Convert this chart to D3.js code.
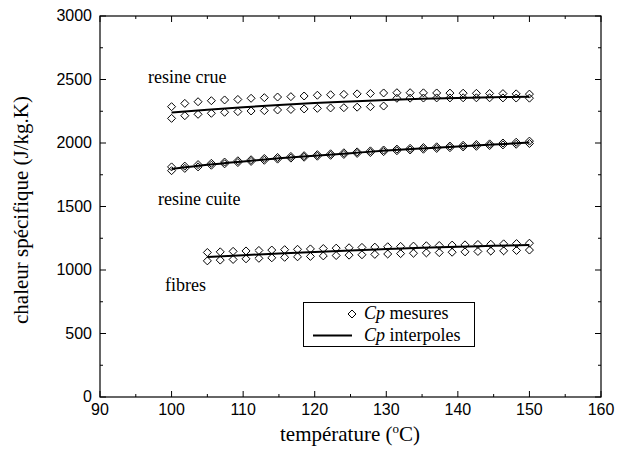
<!DOCTYPE html>
<html>
<head>
<meta charset="utf-8">
<script src="https://cdn.jsdelivr.net/npm/d3@7"></script>
<style>
  body { margin: 0; background: #fff; }
  text { fill: #000; }
  .tick-label { font-family: "Liberation Sans", Arial, sans-serif; font-size: 16px; }
  .serif { font-family: "Liberation Serif", "Times New Roman", serif; }
</style>
</head>
<body>
<svg id="chart" width="627" height="450"></svg>
<script>
// temperatures of the measured points (°C)
var tempResine = [100, 101.85, 103.7, 105.56, 107.41, 109.26, 111.11, 112.96, 114.81, 116.67,
                  118.52, 120.37, 122.22, 124.07, 125.93, 127.78, 129.63, 131.48, 133.33, 135.19,
                  137.04, 138.89, 140.74, 142.59, 144.44, 146.3, 148.15, 150];
var tempFibres = [105, 106.8, 108.6, 110.4, 112.2, 114, 115.8, 117.6, 119.4, 121.2, 123, 124.8, 126.6,
                  128.4, 130.2, 132, 133.8, 135.6, 137.4, 139.2, 141, 142.8, 144.6, 146.4, 148.2, 150];

// Cp mesures (J/kg.K)
var crueHaut = [2286, 2312, 2325, 2333, 2339, 2343, 2352, 2357, 2362, 2365, 2370, 2376, 2380, 2383,
                2387, 2390, 2394, 2396, 2396, 2395, 2394, 2393, 2392, 2391, 2390, 2389, 2387, 2385];
var crueBas = [2194, 2215, 2226, 2234, 2242, 2247, 2252, 2255, 2260, 2264, 2268, 2273, 2276, 2278,
               2282, 2286, 2291, 2352, 2353, 2354, 2355, 2355, 2356, 2356, 2356, 2355, 2354, 2353];
var cuiteA = [1812, 1818, 1830, 1840, 1850, 1860, 1868, 1878, 1886, 1894, 1900, 1908, 1915, 1923,
              1930, 1938, 1945, 1952, 1958, 1964, 1970, 1976, 1982, 1988, 1993, 2000, 2006, 2015];
var cuiteB = [1782, 1800, 1812, 1825, 1836, 1846, 1855, 1864, 1873, 1881, 1888, 1896, 1903, 1910,
              1918, 1925, 1932, 1939, 1945, 1951, 1957, 1963, 1969, 1974, 1980, 1985, 1990, 1996];
var fibresHaut = [1138, 1143, 1147, 1150, 1154, 1157, 1160, 1163, 1166, 1169, 1172, 1175, 1178,
                  1180, 1183, 1186, 1188, 1191, 1193, 1196, 1198, 1201, 1203, 1206, 1208, 1211];
var fibresBas = [1072, 1078, 1083, 1088, 1092, 1096, 1100, 1104, 1107, 1111, 1114, 1117, 1120,
                 1123, 1126, 1129, 1132, 1135, 1137, 1140, 1143, 1146, 1149, 1151, 1154, 1157];

// Cp interpoles
var tempLissage = [100, 105, 110, 115, 120, 125, 130, 135, 140, 145, 150];
var crueLisse = [2239, 2262, 2282, 2299, 2314, 2327, 2339, 2348, 2355, 2361, 2365];
var cuiteLisse = [1795, 1828, 1855, 1880, 1900, 1920, 1940, 1957, 1973, 1988, 2003];
var tempLissageFibres = [105, 110, 115, 120, 125, 130, 135, 140, 145, 150];
var fibresLisse = [1102, 1117, 1130, 1142, 1154, 1165, 1175, 1183, 1190, 1197];

var xTicks = [90, 100, 110, 120, 130, 140, 150, 160];
var yTicks = [0, 500, 1000, 1500, 2000, 2500, 3000];

(function(d3) {
	'use strict';

	var left = 100, right = 601, top = 16, bottom = 397;
	var svg = d3.select('#chart');

	var x = d3.scaleLinear().domain([90, 160]).range([left, right]);
	var y = d3.scaleLinear().domain([0, 3000]).range([bottom, top]);

	var minorX = d3.range(90, 161, 5);
	var minorY = d3.range(0, 3001, 250);

	// frame
	svg.append('rect')
		.attr('x', left).attr('y', top)
		.attr('width', right - left).attr('height', bottom - top)
		.attr('fill', 'none').attr('stroke', '#000').attr('stroke-width', 1.2);

	// ticks pointing inside, on all four sides
	var tickG = svg.append('g').attr('stroke', '#000').attr('stroke-width', 1);
	minorX.forEach(function(v) {
		var len = (v % 10 === 0) ? 6 : 3;
		tickG.append('line').attr('x1', x(v)).attr('x2', x(v)).attr('y1', bottom).attr('y2', bottom - len);
		tickG.append('line').attr('x1', x(v)).attr('x2', x(v)).attr('y1', top).attr('y2', top + len);
	});
	minorY.forEach(function(v) {
		var len = (v % 500 === 0) ? 6 : 3;
		tickG.append('line').attr('x1', left).attr('x2', left + len).attr('y1', y(v)).attr('y2', y(v));
		tickG.append('line').attr('x1', right).attr('x2', right - len).attr('y1', y(v)).attr('y2', y(v));
	});

	svg.selectAll('.xlab').data(xTicks).enter().append('text')
		.attr('class', 'tick-label')
		.attr('x', function(d) { return x(d); })
		.attr('y', bottom + 18)
		.attr('text-anchor', 'middle')
		.text(function(d) { return d; });

	svg.selectAll('.ylab').data(yTicks).enter().append('text')
		.attr('class', 'tick-label')
		.attr('x', left - 8)
		.attr('y', function(d) { return y(d) + 5; })
		.attr('text-anchor', 'end')
		.text(function(d) { return d; });

	// axis titles
	var xt = svg.append('text')
		.attr('class', 'serif')
		.attr('x', 350).attr('y', 441)
		.attr('text-anchor', 'middle')
		.style('font-size', '21px');
	xt.append('tspan').text('température (');
	xt.append('tspan').attr('dy', -8).style('font-size', '13px').text('o');
	xt.append('tspan').attr('dy', 8).text('C)');

	svg.append('text')
		.attr('class', 'serif')
		.attr('transform', 'translate(28,' + 210 + ') rotate(-90)')
		.attr('text-anchor', 'middle')
		.style('font-size', '21px')
		.text('chaleur spécifique (J/kg.K)');

	// measured points
	var r = 4;
	function diamond(px, py) {
		return 'M' + px + ',' + (py - r) + 'L' + (px + r) + ',' + py + 'L' + px + ',' + (py + r) + 'L' + (px - r) + ',' + py + 'Z';
	}
	var series = [
		[tempResine, crueHaut], [tempResine, crueBas],
		[tempResine, cuiteA], [tempResine, cuiteB],
		[tempFibres, fibresHaut], [tempFibres, fibresBas]
	];
	series.forEach(function(s) {
		svg.append('g').selectAll('path')
			.data(s[1])
			.enter()
			.append('path')
			.attr('d', function(d, i) { return diamond(x(s[0][i]), y(d)); })
			.attr('fill', 'none')
			.attr('stroke', '#000')
			.attr('stroke-width', 1);
	});

	// interpolated curves
	var line = d3.line()
		.x(function(d) { return x(d[0]); })
		.y(function(d) { return y(d[1]); })
		.curve(d3.curveMonotoneX);
	[[tempLissage, crueLisse], [tempLissage, cuiteLisse], [tempLissageFibres, fibresLisse]].forEach(function(s) {
		svg.append('path')
			.datum(d3.zip(s[0], s[1]))
			.attr('d', line)
			.attr('fill', 'none')
			.attr('stroke', '#000')
			.attr('stroke-width', 2);
	});

	// series labels
	var labels = [
		{ text: 'resine crue', x: 148, y: 83 },
		{ text: 'resine cuite', x: 158, y: 205 },
		{ text: 'fibres', x: 165, y: 291 }
	];
	svg.selectAll('.lab').data(labels).enter().append('text')
		.attr('class', 'serif')
		.attr('x', function(d) { return d.x; })
		.attr('y', function(d) { return d.y; })
		.style('font-size', '18px')
		.text(function(d) { return d.text; });

	// legend
	var lg = svg.append('g');
	lg.append('rect')
		.attr('x', 303.5).attr('y', 302.5).attr('width', 171).attr('height', 44)
		.attr('fill', '#fff').attr('stroke', '#000').attr('stroke-width', 1);
	lg.append('path').attr('d', diamond(352, 314)).attr('fill', 'none').attr('stroke', '#000');
	lg.append('line').attr('x1', 313).attr('x2', 352).attr('y1', 335.5).attr('y2', 335.5)
		.attr('stroke', '#000').attr('stroke-width', 2);
	[['mesures', 319], ['interpoles', 341]].forEach(function(e) {
		var t = lg.append('text').attr('class', 'serif').attr('x', 364).attr('y', e[1]).style('font-size', '18px');
		t.append('tspan').style('font-style', 'italic').text('Cp');
		t.append('tspan').text(' ' + e[0]);
	});
})(window.d3);
</script>
</body>
</html>
